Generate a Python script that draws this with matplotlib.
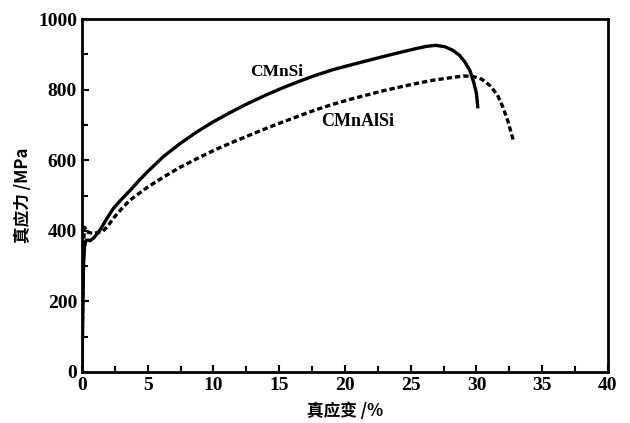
import matplotlib
matplotlib.use("Agg")
import matplotlib.pyplot as plt
from matplotlib.ticker import MultipleLocator

# CMnSi (solid)
strain_cmnsi = [0, 0.05, 0.12, 0.2, 0.3, 0.45, 0.61, 0.9, 1.37, 1.85, 2.38, 3.0, 3.65, 4.3, 4.92,
                6.18, 7.45, 8.72, 9.98, 11.25, 12.5, 14.05, 15.3, 16.6, 17.85, 19.1, 20.4, 21.65,
                22.9, 24.2, 25.45, 26.2, 26.9, 27.6, 28.2, 28.7, 29.1, 29.5, 29.8, 30.0, 30.1]
stress_cmnsi = [0, 120, 300, 355, 372, 374, 372, 380, 402, 432, 463, 489, 514, 541, 565,
                610, 647, 680, 709, 735, 759, 786, 806, 825, 842, 857, 870, 882,
                894, 906, 917, 923, 926, 922, 912, 898, 880, 855, 820, 790, 752]

# CMnAlSi (dashed)
strain_cmnalsi = [0, 0.05, 0.12, 0.2, 0.36, 0.8, 1.2, 1.6, 2.0, 2.38, 3.0, 3.65, 4.92, 6.18, 7.45,
                  8.97, 10.2, 11.5, 12.8, 14.05, 15.3, 16.6, 17.85, 19.1, 20.4, 21.65, 22.9, 24.2,
                  25.45, 26.7, 28.0, 29.0, 29.7, 30.4, 31.0, 31.6, 32.0, 32.4, 32.8]
stress_cmnalsi = [0, 140, 360, 410, 397, 393, 395, 399, 415, 435, 462, 487, 522, 552, 580,
                  609, 631, 652, 672, 691, 709, 727, 744, 759, 773, 785, 797, 808,
                  818, 827, 834, 839, 838, 830, 813, 785, 752, 710, 657]

xticks = [0, 5, 10, 15, 20, 25, 30, 35, 40]
yticks = [0, 200, 400, 600, 800, 1000]

fig = plt.figure(figsize=(6.3, 4.23), dpi=100)
ax = fig.add_axes([0.130, 0.1206, 0.835, 0.834])

ax.plot(strain_cmnsi, stress_cmnsi, color="black", lw=2.4, solid_joinstyle="round")
ax.plot(strain_cmnalsi, stress_cmnalsi, color="black", lw=2.4, linestyle=(0, (1.6, 0.9)))

ax.set_xlim(0, 40)
ax.set_ylim(0, 1000)
ax.set_xticks(xticks)
ax.set_yticks(yticks)
ax.xaxis.set_minor_locator(MultipleLocator(2.5))
ax.yaxis.set_minor_locator(MultipleLocator(100))
ax.tick_params(which="both", direction="in", width=1.5, top=False, right=False)
ax.tick_params(which="major", length=5)
ax.tick_params(which="minor", length=4)

tickfont = dict(family="Liberation Serif", weight="bold", size=14)
ax.set_xticklabels([str(v) for v in xticks], **tickfont)
ax.set_yticklabels([str(v) for v in yticks], **tickfont)

for s in ax.spines.values():
    s.set_linewidth(2)

cjk = ["Noto Sans CJK SC", "DejaVu Sans"]
ax.set_xlabel("真应变 /%", family=cjk, weight="bold", size=12, labelpad=6)
ax.set_ylabel("真应力 /MPa", family=cjk, weight="bold", size=12, labelpad=4)

ax.text(14.8, 851, "CMnSi", family="Liberation Serif", weight="bold", size=12.5, ha="center", va="center")
ax.text(21.0, 710, "CMnAlSi", family="Liberation Serif", weight="bold", size=13, ha="center", va="center")

fig.savefig("out.png", dpi=100)
